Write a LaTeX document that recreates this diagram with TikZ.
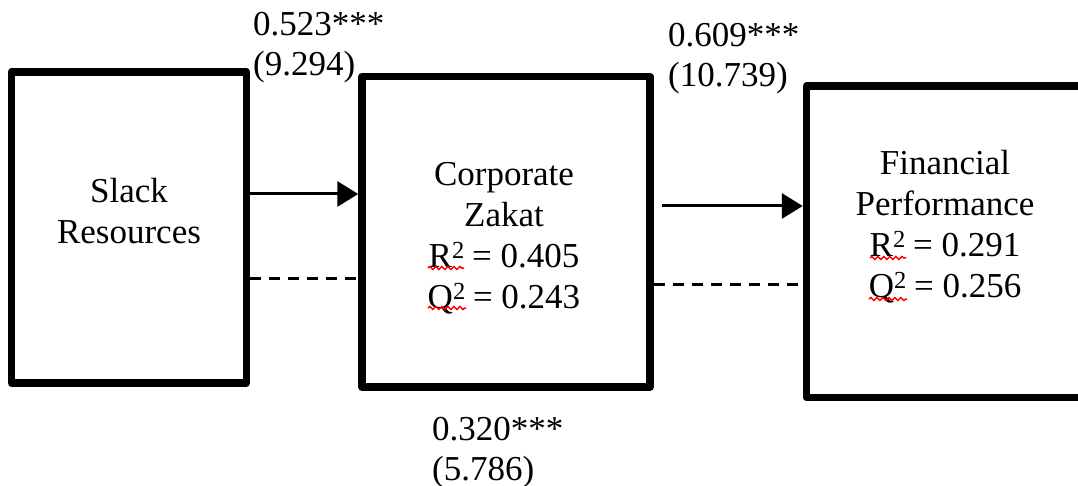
\documentclass[tikz,border=0pt]{standalone}
\usepackage{fontspec}
\setmainfont{Liberation Serif}
\usetikzlibrary{arrows.meta,decorations.pathmorphing}
\newcommand{\sqr}[1]{#1\textsuperscript{2}\kern-1.5pt\relax}
\begin{document}
\begin{tikzpicture}[x=1pt,y=-1pt,
  box/.style={draw, line width=7.5pt, line join=round, inner sep=0pt, outer sep=3.75pt},
  txt/.style={font=\fontsize{35}{41}\selectfont, align=center, inner sep=0pt, anchor=north},
  lbl/.style={font=\fontsize{35}{40}\selectfont, align=left, inner sep=0pt, anchor=north west},
  link/.style={line width=3pt, -{Triangle[length=21pt,width=25pt]}},
  dashlink/.style={line width=3pt, dash pattern=on 11pt off 8pt},
  squiggle/.style={red, line width=1.5pt, decorate,
    decoration={snake, amplitude=1.5pt, segment length=6pt}}]
\useasboundingbox (0,0) rectangle (1078,486);

% construct boxes
\node[box, minimum width=234.8pt, minimum height=311pt] (slack) at (129,227.5) {};
\node[box, minimum width=288pt, minimum height=310.5pt] (zakat) at (506,231.75) {};
\node[box, minimum width=278.5pt, minimum height=311.5pt] (perf) at (945.75,241.75) {};

% construct names and fit statistics
\node[txt] (slackT) at (129,178) {Slack\\Resources};
\node[txt] (zakatT) at (504,162) {Corporate\\Zakat\\\sqr{R} = 0.405\\\sqr{Q} = 0.243};
\node[txt] (perfT) at (945,150) {Financial\\Performance\\\sqr{R} = 0.291\\\sqr{Q} = 0.256};

% path coefficients (t-values)
\node[lbl] (c1) at (253,12) {0.523***\\(9.294)};
\node[lbl] (c2) at (668,23) {0.609***\\(10.739)};
\node[lbl] (c3) at (432,417) {0.320***\\(5.786)};

% direct paths
\draw[link] ([yshift=33.5pt]slack.east) -- ([yshift=37.75pt]zakat.west);
\draw[link, shorten <=8pt] ([yshift=25.75pt]zakat.east) -- ([yshift=35.75pt]perf.west);

% indirect path
\draw[dashlink] ([yshift=-50.5pt]slack.east) -- ([yshift=-46.25pt]zakat.west);
\draw[dashlink, shorten >=3pt] ([yshift=-52.25pt]zakat.east) -- ([yshift=-42.25pt]perf.west);

% spelling marks under R and Q
\draw[squiggle] (428,268) -- (464,268);
\draw[squiggle] (428,308) -- (466,308);
\draw[squiggle] (870,258) -- (906,258);
\draw[squiggle] (869,299) -- (907,299);
\end{tikzpicture}
\end{document}
